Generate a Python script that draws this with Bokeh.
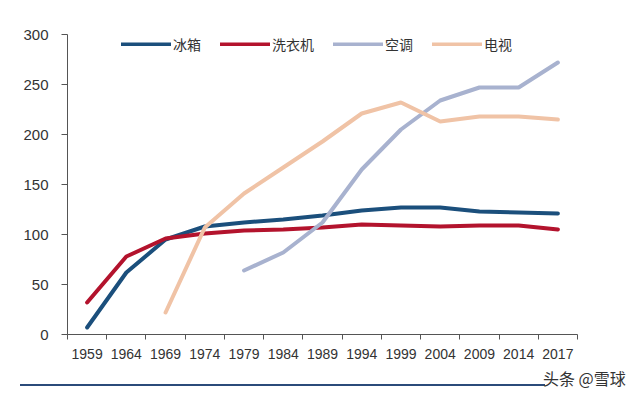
from bokeh.plotting import figure
from bokeh.layouts import column
from bokeh.models import FixedTicker, Legend, LegendItem, Range1d, Div
from bokeh.embed import file_html
from bokeh.resources import INLINE

years = ["1959", "1964", "1969", "1974", "1979", "1984", "1989", "1994", "1999", "2004", "2009", "2014", "2017"]
fridge = [7, 62, 95, 108, 112, 115, 119, 124, 127, 127, 123, 122, 121]
washer = [32, 78, 96, 101, 104, 105, 107, 110, 109, 108, 109, 109, 105]
ac_years = ["1979", "1984", "1989", "1994", "1999", "2004", "2009", "2014", "2017"]
ac = [64, 82, 112, 165, 205, 234, 247, 247, 272]
tv_years = ["1969", "1974", "1979", "1984", "1989", "1994", "1999", "2004", "2009", "2014", "2017"]
tv = [22, 107, 141, 167, 193, 221, 232, 213, 218, 218, 215]
names = ["冰箱", "洗衣机", "空调", "电视"]
y_ticks = [0, 50, 100, 150, 200, 250, 300]
watermark = "头条 @雪球"

colors = ["#1b4f7c", "#b3132d", "#a8b2cf", "#f0c3a6"]
idx = {y: i for i, y in enumerate(years)}

W = 624
p = figure(frame_width=510, frame_height=300, output_backend="svg", toolbar_location=None,
           x_range=Range1d(-0.5, len(years) - 0.5), y_range=Range1d(0, 300),
           min_border_left=67, min_border_right=47, min_border_top=34, min_border_bottom=30)
p.outline_line_color = None
p.grid.visible = False

series = [(years, fridge), (years, washer), (ac_years, ac), (tv_years, tv)]
renderers = []
for (xs, ys), c in zip(series, colors):
    r = p.line([idx[x] for x in xs], ys, line_color=c, line_width=4, line_cap="round")
    renderers.append(r)

xa = p.xaxis[0]
xa.ticker = FixedTicker(ticks=list(range(len(years))), minor_ticks=[i - 0.5 for i in range(len(years) + 1)])
xa.major_label_overrides = {i: y for i, y in enumerate(years)}
xa.major_tick_line_color = None
xa.minor_tick_out = 5
xa.minor_tick_in = 0
xa.minor_tick_line_color = "#555555"
xa.axis_line_color = "#555555"
xa.major_label_text_font = "Liberation Sans"
xa.major_label_text_font_size = "14px"
xa.major_label_text_color = "#333333"
xa.major_label_standoff = 8

ya = p.yaxis[0]
ya.ticker = FixedTicker(ticks=y_ticks)
ya.minor_tick_line_color = None
ya.major_tick_out = 6
ya.major_tick_in = 0
ya.major_tick_line_color = "#555555"
ya.axis_line_color = "#555555"
ya.major_label_text_font = "Liberation Sans"
ya.major_label_text_font_size = "15px"
ya.major_label_text_color = "#333333"
ya.major_label_standoff = 13

legend = Legend(items=[LegendItem(label=n, renderers=[r]) for n, r in zip(names, renderers)],
                orientation="horizontal", location=(54, 280), border_line_color=None,
                background_fill_alpha=0, glyph_width=50, glyph_height=4, spacing=19,
                label_text_font="Noto Sans CJK SC", label_text_font_size="14px",
                label_text_color="#333333", label_standoff=2, padding=0, margin=0)
p.add_layout(legend, "center")

footer_html = (
    '<div style="position:relative;width:624px;height:26px;margin:0;padding:0;">'
    '<div style="position:absolute;left:20px;top:20px;width:525px;height:2px;background:#2b4b7a;"></div>'
    '<div style="position:absolute;left:543px;top:4px;font-family:\'Noto Sans CJK SC\';'
    'font-size:16px;line-height:20px;color:#333333;white-space:nowrap;">' + watermark + '</div>'
    '</div>'
)
footer = Div(text=footer_html, width=W, height=26, margin=(0, 0, 0, 0))

layout = column(p, footer, spacing=0)
open("out.html", "w").write(file_html(layout, INLINE))
